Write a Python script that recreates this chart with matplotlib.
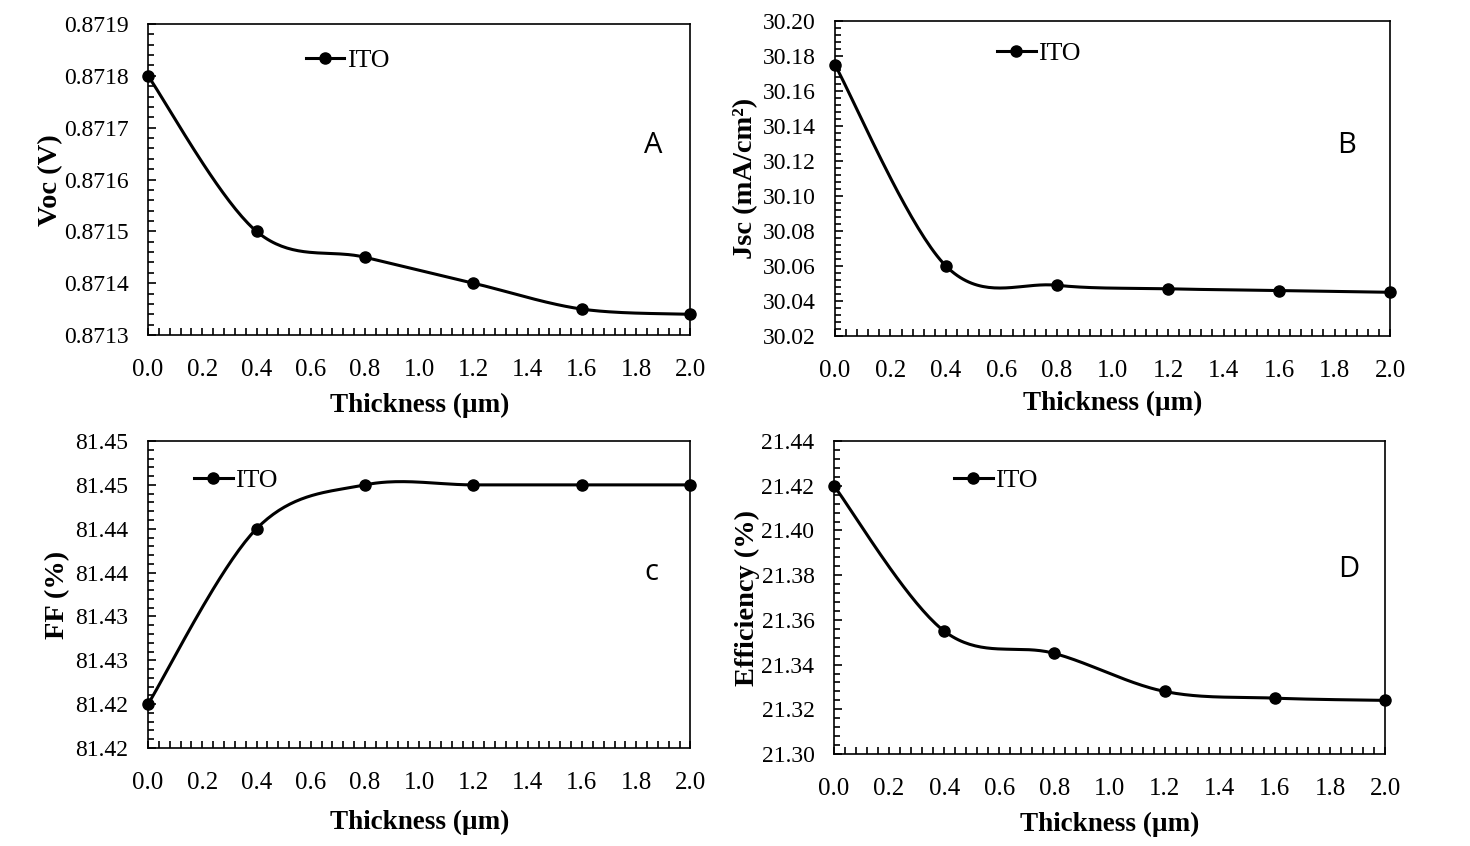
import numpy as np
import matplotlib
matplotlib.use('Agg')
import matplotlib.pyplot as plt
from matplotlib.ticker import MultipleLocator, FormatStrFormatter, FixedLocator

plt.rcParams['font.family'] = ['Liberation Serif', 'DejaVu Serif']

thickness = [0.0, 0.4, 0.8, 1.2, 1.6, 2.0]
voc = [0.8718, 0.8715, 0.87145, 0.8714, 0.87135, 0.87134]
jsc = [30.175, 30.060, 30.049, 30.047, 30.046, 30.045]
ff = [81.420, 81.440, 81.445, 81.445, 81.445, 81.445]
eff = [21.420, 21.355, 21.345, 21.328, 21.325, 21.324]

ff_ticks = [81.415, 81.420, 81.425, 81.430, 81.435, 81.440, 81.445, 81.450]
ff_tick_labels = ['81.42', '81.42', '81.43', '81.43', '81.44', '81.44', '81.45', '81.45']


def smooth(x, y, n=40):
    # excel-like smoothed line through the points (catmull-rom bezier)
    pts = np.column_stack([x, y])
    p = np.vstack([pts[0], pts, pts[-1]])
    segs = []
    t = np.linspace(0, 1, n)[:, None]
    for i in range(1, len(p) - 2):
        p0, p1, p2, p3 = p[i - 1], p[i], p[i + 1], p[i + 2]
        c1 = p1 + (p2 - p0) / 6
        c2 = p2 - (p3 - p1) / 6
        segs.append((1 - t) ** 3 * p1 + 3 * (1 - t) ** 2 * t * c1
                    + 3 * (1 - t) * t ** 2 * c2 + t ** 3 * p2)
    s = np.vstack(segs)
    return s[:, 0], s[:, 1]


def panel(rect, y, ylim, ymajor, yminor, yfmt, ylabel, letter, letter_pos,
          leg_pos, ylab_pos, xlab_y):
    ax = fig.add_axes(rect)
    sx, sy = smooth(thickness, y)
    ax.plot(sx, sy, color='black', lw=2.2, zorder=2)
    ax.plot(thickness, y, 'o', color='black', ms=8, zorder=3, clip_on=False)
    # legend handle
    ax.plot([], [], '-o', color='black', lw=2.2, ms=8, label='ITO')
    ax.legend(loc='center left', bbox_to_anchor=leg_pos, frameon=False,
              fontsize=18.5, handlelength=1.5, handletextpad=0.1,
              borderpad=0, borderaxespad=0)
    ax.set_xlim(0, 2.0)
    ax.set_ylim(*ylim)
    ax.xaxis.set_major_locator(MultipleLocator(0.2))
    ax.xaxis.set_minor_locator(MultipleLocator(0.04))
    ax.xaxis.set_major_formatter(FormatStrFormatter('%.1f'))
    if ymajor is None:
        ax.yaxis.set_major_locator(FixedLocator(ff_ticks))
        ax.set_yticklabels(ff_tick_labels)
    else:
        ax.yaxis.set_major_locator(MultipleLocator(ymajor))
        ax.yaxis.set_major_formatter(FormatStrFormatter(yfmt))
    ax.yaxis.set_minor_locator(MultipleLocator(yminor))
    ax.tick_params(axis='both', which='both', direction='in', top=False, right=False,
                   labelsize=17, width=1.2)
    ax.tick_params(axis='x', which='major', length=5, pad=17, labelsize=18)
    ax.tick_params(axis='x', which='minor', length=5)
    ax.tick_params(axis='y', which='major', length=6, pad=14)
    ax.tick_params(axis='y', which='minor', length=4)
    for sp in ax.spines.values():
        sp.set_linewidth(1.2)
    ax.set_xlabel('Thickness (µm)', fontsize=19.5, fontweight='bold')
    ax.xaxis.set_label_coords(0.5, xlab_y)
    ax.set_ylabel(ylabel, fontsize=20.5, fontweight='bold')
    ax.yaxis.set_label_coords(*ylab_pos)
    ax.text(letter_pos[0], letter_pos[1], letter, transform=ax.transAxes,
            fontsize=21, family='Open Sans', ha='center', va='center')
    return ax


fig = plt.figure(figsize=(14.7, 8.46), dpi=100)

panel([0.1007, 0.604, 0.369, 0.3676], voc, (0.8713, 0.8719), 0.0001, 0.00002, '%.4f',
      'Voc (V)', 'A', (0.932, 0.611), (0.291, 0.884), (-0.157, 0.498), -0.185)
panel([0.568, 0.6028, 0.3776, 0.3723], jsc, (30.02, 30.20), 0.02, 0.004, '%.2f',
      'Jsc (mA/cm²)', 'B', (0.921, 0.606), (0.292, 0.898), (-0.139, 0.50), -0.175)
panel([0.1007, 0.1158, 0.369, 0.3629], ff, (81.415, 81.45), None, 0.001, None,
      'FF (%)', 'c', (0.928, 0.573), (0.085, 0.873), (-0.144, 0.50), -0.20)
panel([0.5673, 0.1087, 0.375, 0.37], eff, (21.30, 21.44), 0.02, 0.004, '%.2f',
      'Efficiency (%)', 'D', (0.933, 0.588), (0.218, 0.875), (-0.135, 0.50), -0.185)

fig.savefig('out.png', dpi=100)
